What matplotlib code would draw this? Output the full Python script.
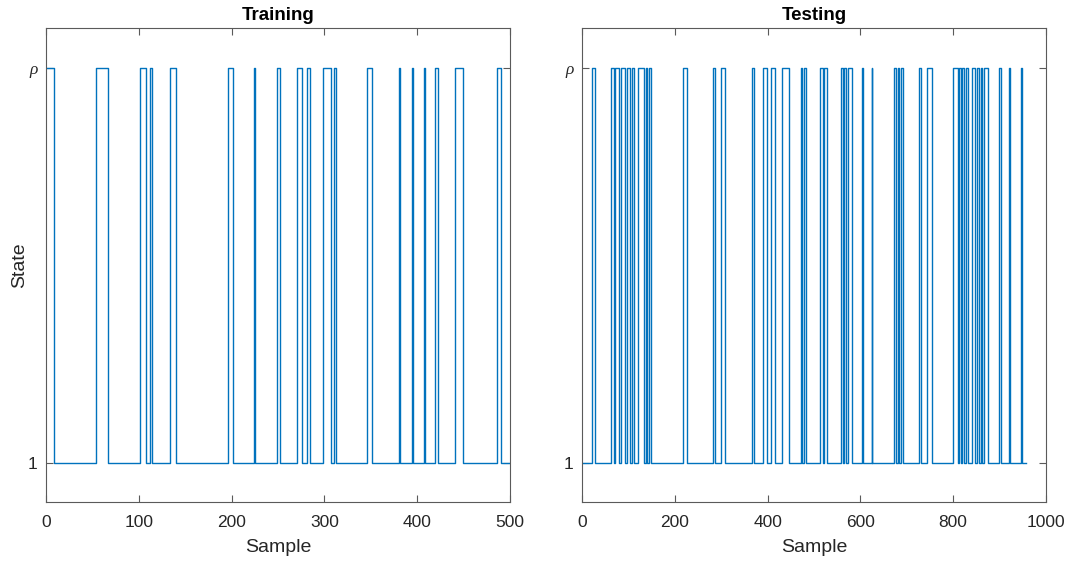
import numpy as np
import matplotlib.pyplot as plt

plt.rcParams['font.family'] = ['Liberation Sans', 'DejaVu Sans']

# high-state intervals (start, end) in samples
train_high = [(0, 9), (54, 67), (101, 108), (112, 114), (134, 140), (196, 201),
              (224, 225), (249, 252), (271, 276), (281, 284), (299, 307),
              (310, 313), (346, 351), (380, 382), (394, 396), (407, 408),
              (419, 422), (441, 449), (486, 490)]
train_len = 500

test_high = [(22, 27), (62, 68), (72, 80), (84, 92), (96, 104), (108, 113),
             (120, 134), (137, 141), (145, 149), (218, 226), (283, 287),
             (299, 309), (366, 371), (391, 398), (407, 415), (432, 446),
             (472, 475), (478, 482), (512, 520), (522, 528), (558, 562),
             (565, 569), (574, 582), (604, 606), (624, 626), (673, 677),
             (680, 684), (688, 692), (726, 730), (743, 754), (799, 810),
             (812, 816), (819, 824), (827, 832), (841, 848), (851, 856),
             (859, 862), (866, 876), (899, 902), (920, 923), (946, 949)]
test_len = 958

line_color = '#0072BD'
edge_color = '#5a5a5a'


def step_points(high, n):
    # switch positions and the state that holds after each one
    xs, ss = [0], [2 if high[0][0] == 0 else 1]
    for a, b in high:
        if a > 0:
            xs.append(a)
            ss.append(2)
        xs.append(b)
        ss.append(1)
    xs.append(n)
    ss.append(1)
    return xs, ss


fig = plt.figure(figsize=(10.75, 5.61), dpi=100)
ax1 = fig.add_axes([0.0428, 0.105, 0.4316, 0.845])
ax2 = fig.add_axes([0.5414, 0.105, 0.4316, 0.845])

panels = [(ax1, train_high, train_len, 'Training', 500, 100),
          (ax2, test_high, test_len, 'Testing', 1000, 200)]

for ax, high, n, title, xmax, step in panels:
    xs, ss = step_points(high, n)
    ax.plot(xs, ss, drawstyle='steps-post', color=line_color, lw=1.0)
    ax.set_xlim(0, xmax)
    ax.set_ylim(0.9, 2.1)
    ax.set_xticks(np.arange(0, xmax + 1, step))
    ax.set_yticks([1, 2])
    ax.set_yticklabels(['1', 'ρ'])
    lbl = ax.get_yticklabels()[1]
    lbl.set_fontfamily('Liberation Serif')
    lbl.set_fontstyle('italic')
    lbl.set_fontsize(17)
    ax.tick_params(direction='in', top=True, right=True, labelsize=12.5,
                   color=edge_color, length=5, width=0.8, labelcolor='#262626')
    ax.tick_params(axis='x', pad=9)
    ax.tick_params(axis='y', pad=6)
    for sp in ax.spines.values():
        sp.set_color(edge_color)
        sp.set_linewidth(0.8)
    ax.set_xlabel('Sample', fontsize=14, color='#262626', labelpad=7)
    ax.set_title(title, fontsize=13.5, fontweight='bold', pad=6)

ax1.set_ylabel('State', fontsize=14, color='#262626', labelpad=0)

plt.savefig('out.png')
